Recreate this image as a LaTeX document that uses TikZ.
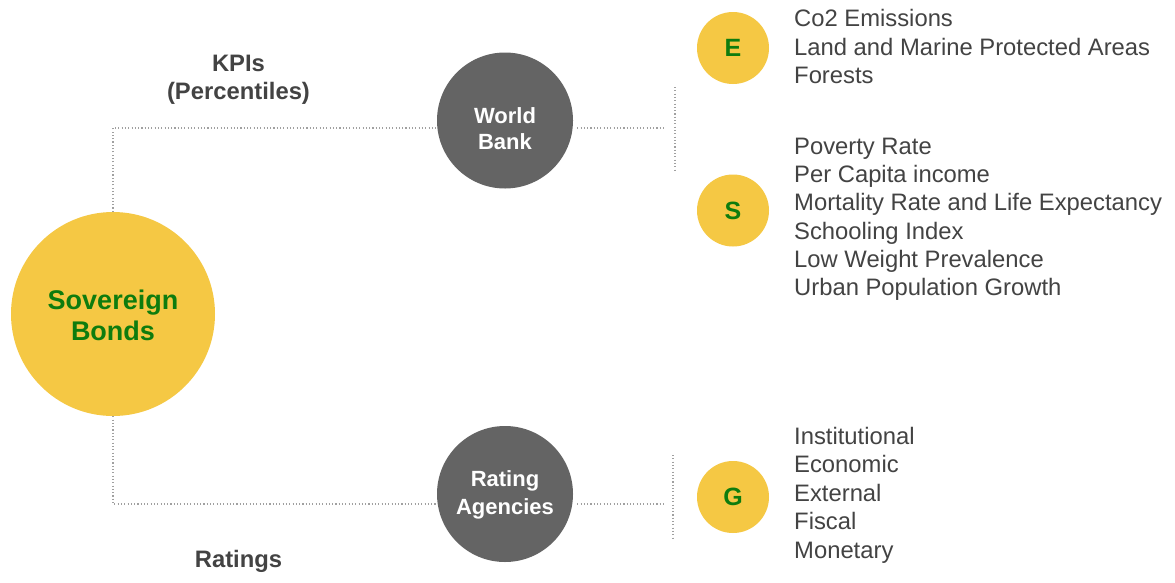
\documentclass[tikz,border=0pt]{standalone}
\usepackage{fontspec}
\setmainfont{Liberation Sans}
\definecolor{gold}{HTML}{F5C844}
\definecolor{leaf}{HTML}{0E7C0E}
\definecolor{slate}{HTML}{646464}
\definecolor{ink}{HTML}{434343}
\definecolor{dotgrey}{HTML}{A0A0A0}
\tikzset{
  bigcirc/.style={circle,fill=gold,draw=none,minimum size=204pt,inner sep=0pt},
  greycirc/.style={circle,fill=slate,draw=none,minimum size=136pt,inner sep=0pt},
  smallcirc/.style={circle,fill=gold,draw=none,minimum size=72pt,inner sep=0pt,
     text=leaf,font=\fontsize{25}{28}\selectfont\bfseries},
  whitetxt/.style={text=white,align=center,inner sep=0pt},
  sidelabel/.style={text=ink,align=center,inner sep=0pt},
  listline/.style={text=ink,anchor=base west,inner sep=0pt,font=\fontsize{23.8}{28.3}\selectfont},
  dotline/.style={draw=dotgrey,line width=1.2pt,dash pattern=on 1.1pt off 2.2pt}
}
\begin{document}
\begin{tikzpicture}[x=1pt,y=-1pt]
\useasboundingbox[fill=white] (0,0) rectangle (1175,582);

% main nodes
\node[bigcirc] (sb) at (113,314) {};
\node[text=leaf,align=center,inner sep=0pt,font=\fontsize{27}{31.4}\selectfont\bfseries] (sbt) at (113,315.3) {Sovereign\\Bonds};

\node[greycirc] (wb) at (505,120.5) {};
\node[whitetxt,font=\fontsize{22}{26}\selectfont\bfseries] (wbt) at (505,129) {World\\Bank};

\node[greycirc] (ra) at (505,494) {};
\node[whitetxt,font=\fontsize{22}{28}\selectfont\bfseries] (rat) at (505,495) {Rating\\Agencies};

\node[sidelabel,font=\fontsize{23.8}{28.3}\selectfont\bfseries] (kpi) at (238.5,79.7) {KPIs\\(Percentiles)};
\node[sidelabel,anchor=base,font=\fontsize{23.8}{28.3}\selectfont\bfseries] (rtg) at (238.5,567) {Ratings};

\node[smallcirc] (e) at (733,48) {E};
\node[smallcirc] (s) at (733,210.5) {S};
\node[smallcirc] (g) at (733,497) {G};

% lists
\foreach \t [count=\i from 0] in {Co2 Emissions,Land and Marine Protected Areas,Forests}
  \node[listline] (el\i) at (794,26.7+28.3*\i) {\t};
\foreach \t [count=\i from 0] in {Poverty Rate,Per Capita income,Mortality Rate and Life Expectancy,Schooling Index,Low Weight Prevalence,Urban Population Growth}
  \node[listline] (sl\i) at (794,154.3+28.3*\i) {\t};
\foreach \t [count=\i from 0] in {Institutional,Economic,External,Fiscal,Monetary}
  \node[listline] (gl\i) at (794,444+28.6*\i) {\t};

% connectors
\coordinate (kp) at (0,128);
\coordinate (rp) at (0,504);
\coordinate (wbend) at (665,128);
\coordinate (wbtop) at (675,87);
\coordinate (wbbot) at (675,170);
\coordinate (raend) at (665,504);
\coordinate (ratop) at (673,455);
\coordinate (rabot) at (673,538);

\draw[dotline] (sb.north) |- (wb.west |- kp);
\draw[dotline] (sb.south) |- (ra.west |- rp);
\draw[dotline] ([xshift=4pt]wb.east |- kp) -- (wbend);
\draw[dotline] (wbtop) -- (wbbot);
\draw[dotline] ([xshift=4pt]ra.east |- rp) -- (raend);
\draw[dotline] (ratop) -- (rabot);
\end{tikzpicture}
\end{document}
